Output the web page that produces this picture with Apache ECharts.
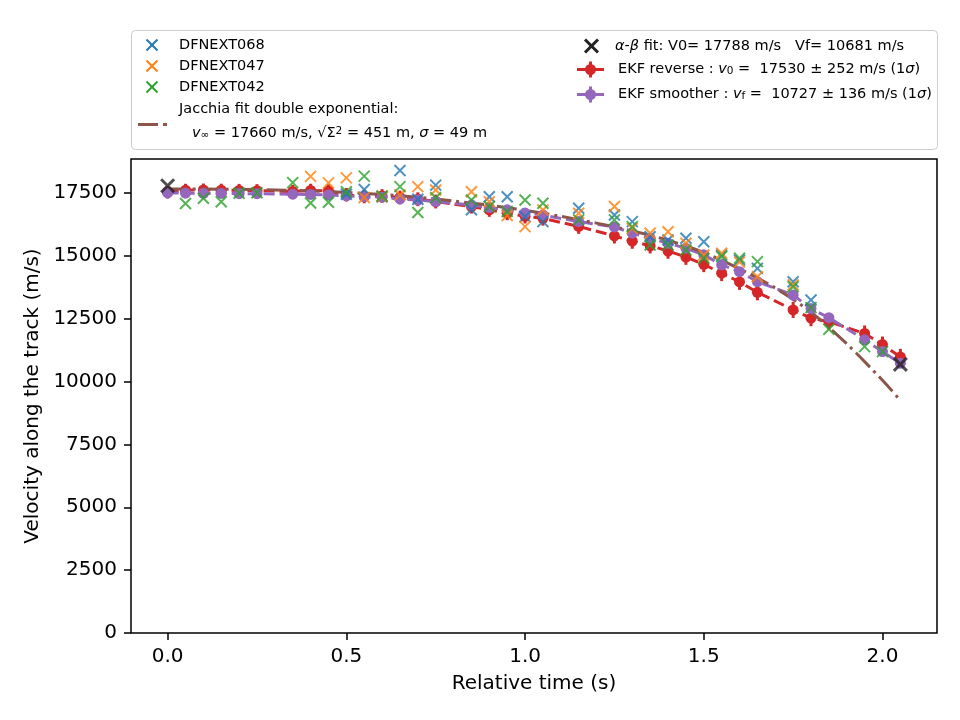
<!DOCTYPE html>
<html>
<head>
<meta charset="utf-8">
<script src="https://cdn.jsdelivr.net/npm/echarts@6/dist/echarts.min.js"></script>
<style>html,body{margin:0;background:#fff}#chart{width:960px;height:720px}</style>
</head>
<body>
<div id="chart"></div>
<script>
// camera observations (s, m/s)
const t068 = [0.5,0.55,0.6,0.65,0.7,0.75,0.85,0.9,0.95,1.0,1.05,1.15,1.25,1.3,1.35,1.4,1.45,1.5,1.55,1.6,1.65,1.75,1.8]
const v068 = [17450,17640,17350,18390,17250,17810,16830,17350,17350,16560,16360,16890,16620,16360,15760,15630,15700,15560,15030,14830,14500,13970,13240]
const t047 = [0.4,0.45,0.5,0.55,0.6,0.65,0.7,0.75,0.85,0.9,0.95,1.0,1.05,1.15,1.25,1.3,1.35,1.4,1.45,1.5,1.55,1.6,1.65,1.75]
const v047 = [18160,17900,18100,17320,17350,17420,17750,17620,17550,17150,16600,16160,16820,16690,16960,16090,15900,15960,15500,15030,15100,14750,14170,13840]
const t042 = [0.05,0.1,0.15,0.2,0.25,0.35,0.4,0.45,0.5,0.55,0.6,0.65,0.7,0.75,0.85,0.9,0.95,1.0,1.05,1.15,1.25,1.3,1.35,1.4,1.45,1.5,1.55,1.6,1.65,1.75,1.8,1.85,1.95,2.0]
const v042 = [17080,17290,17150,17490,17510,17910,17100,17130,17550,18170,17380,17750,16720,17310,17220,16960,16760,17220,17090,16430,16430,16160,15430,15430,15230,14900,14970,14900,14770,13770,12940,12080,11390,11190]

// alpha-beta fit end points
const abT = [0, 2.05]
const abV = [17788, 10681]

// EKF results
const ekfT = [0,0.05,0.1,0.15,0.2,0.25,0.35,0.4,0.45,0.5,0.55,0.6,0.65,0.7,0.75,0.85,0.9,0.95,1.0,1.05,1.15,1.25,1.3,1.35,1.4,1.45,1.5,1.55,1.6,1.65,1.75,1.8,1.85,1.95,2.0,2.05]
const ekfRev = [17530,17610,17620,17610,17600,17590,17560,17600,17580,17430,17360,17380,17320,17250,17160,16960,16830,16700,16570,16490,16170,15790,15580,15400,15190,14950,14660,14310,13960,13550,12850,12520,12380,11910,11470,10980]
const ekfRevErr = [252,255,255,258,260,260,262,265,265,268,270,270,272,275,275,280,280,285,285,290,295,300,300,305,305,310,310,315,315,320,320,320,320,320,320,320]
const ekfSmo = [17500,17490,17480,17480,17470,17470,17450,17440,17420,17380,17350,17330,17260,17220,17160,17020,16920,16830,16700,16620,16360,16150,15900,15700,15500,15300,15040,14640,14370,13970,13440,12900,12540,11660,11190,10727]

// Jacchia double exponential fit
const jacT = [0,0.1,0.2,0.3,0.4,0.5,0.6,0.7,0.8,0.9,1.0,1.1,1.2,1.3,1.4,1.5,1.6,1.7,1.8,1.9,2.0,2.05]
const jacV = [17660,17655,17645,17620,17580,17520,17440,17330,17180,17010,16810,16570,16300,15990,15620,15130,14480,13720,12760,11500,10050,9250]

const xTicks = [0, 0.5, 1.0, 1.5, 2.0]
const yTicks = [0, 2500, 5000, 7500, 10000, 12500, 15000, 17500]

const pairs = (ts, vs) => ts.map((t, i) => [t, vs[i]])
const FONT = 'DejaVu Sans'
const xMark = 'path://M0,0L10,10M10,0L0,10'

function camSeries (name, ts, vs, color) {
  return {
    name, type: 'scatter', data: pairs(ts, vs),
    symbol: xMark, symbolSize: 11,
    itemStyle: { color: 'rgba(0,0,0,0)', borderColor: color, borderWidth: 2 },
    z: 4
  }
}

// legend drawn by hand (matplotlib style box)
function xGlyph (cx, cy, s, color, lw) {
  return [
    { type: 'line', shape: { x1: cx - s, y1: cy - s, x2: cx + s, y2: cy + s }, style: { stroke: color, lineWidth: lw } },
    { type: 'line', shape: { x1: cx - s, y1: cy + s, x2: cx + s, y2: cy - s }, style: { stroke: color, lineWidth: lw } }
  ]
}
function lineDot (y, color) {
  return [
    { type: 'line', shape: { x1: 577, y1: y, x2: 604, y2: y }, style: { stroke: color, lineWidth: 3 } },
    { type: 'line', shape: { x1: 590.5, y1: y - 8, x2: 590.5, y2: y + 8 }, style: { stroke: color, lineWidth: 3 } },
    { type: 'circle', shape: { cx: 590.5, cy: y, r: 5.5 }, style: { fill: color } }
  ]
}
const rich = {
  i: { fontFamily: FONT, fontSize: 14.5, fontStyle: 'italic', fill: '#000' },
  sub: { fontFamily: FONT, fontSize: 10.5, verticalAlign: 'bottom', fill: '#000' },
  sup: { fontFamily: FONT, fontSize: 10.5, verticalAlign: 'top', fill: '#000' }
}
function txt (x, y, text) {
  return { type: 'text', x, y, style: { text, fontFamily: FONT, fontSize: 14.5, fill: '#000', verticalAlign: 'middle', rich } }
}
const legendEls = [
  { type: 'rect', shape: { x: 131.5, y: 30.5, width: 806, height: 119, r: 4 }, style: { fill: '#fff', stroke: '#cccccc', lineWidth: 1 } },
  ...xGlyph(152, 45, 5.5, '#1f77b4', 2), txt(179, 45, 'DFNEXT068'),
  ...xGlyph(152, 66, 5.5, '#ff7f0e', 2), txt(179, 66, 'DFNEXT047'),
  ...xGlyph(152, 87, 5.5, '#2ca02c', 2), txt(179, 87, 'DFNEXT042'),
  { type: 'line', shape: { x1: 138, y1: 124.5, x2: 158, y2: 124.5 }, style: { stroke: '#8c564b', lineWidth: 3 } },
  { type: 'line', shape: { x1: 163, y1: 124.5, x2: 167, y2: 124.5 }, style: { stroke: '#8c564b', lineWidth: 3 } },
  txt(179, 109, 'Jacchia fit double exponential:'),
  txt(192, 133, '{i|v}{sub|∞} = 17660 m/s, √Σ{sup|2} = 451 m, {i|σ} = 49 m'),
  ...xGlyph(591.5, 46, 6.5, '#222', 3),
  txt(615, 46, '{i|α}-{i|β} fit: V0= 17788 m/s   Vf= 10681 m/s'),
  ...lineDot(69.5, '#d62728'),
  txt(618, 69.5, 'EKF reverse : {i|v}{sub|0} =  17530 ± 252 m/s (1{i|σ})'),
  ...lineDot(94.5, '#9467bd'),
  txt(618, 94.5, 'EKF smoother : {i|v}{sub|f} =  10727 ± 136 m/s (1{i|σ})')
]

const chart = echarts.init(document.getElementById('chart'))
chart.setOption({
  backgroundColor: '#fff',
  animation: false,
  textStyle: { fontFamily: FONT },
  grid: { left: 131, top: 159, right: 23, bottom: 87, show: true, borderColor: '#000', borderWidth: 1.5, backgroundColor: '#fff' },
  xAxis: {
    type: 'value', min: -0.1025, max: 2.1525,
    name: 'Relative time (s)', nameLocation: 'middle', nameGap: 41,
    nameTextStyle: { fontSize: 20, color: '#000', fontFamily: FONT },
    axisLine: { show: false, onZero: false },
    axisTick: { show: true, length: 7, customValues: xTicks, lineStyle: { color: '#000', width: 1.5 } },
    axisLabel: { customValues: xTicks, margin: 14, fontSize: 20, color: '#000', fontFamily: FONT, formatter: v => v.toFixed(1) },
    splitLine: { show: false }
  },
  yAxis: {
    type: 'value', min: 0, max: 18850,
    name: 'Velocity along the track (m/s)', nameLocation: 'middle', nameGap: 82,
    nameTextStyle: { fontSize: 20, color: '#000', fontFamily: FONT },
    axisLine: { show: false, onZero: false },
    axisTick: { show: true, length: 7, customValues: yTicks, lineStyle: { color: '#000', width: 1.5 } },
    axisLabel: { customValues: yTicks, margin: 14, fontSize: 20, color: '#000', fontFamily: FONT, formatter: v => String(v) },
    splitLine: { show: false }
  },
  graphic: { elements: legendEls },
  series: [
    {
      name: 'EKF reverse error', type: 'custom', z: 2,
      data: ekfT.map((t, i) => [t, ekfRev[i] - ekfRevErr[i], ekfRev[i] + ekfRevErr[i]]),
      encode: { x: 0, y: [1, 2] },
      renderItem: (params, api) => {
        const a = api.coord([api.value(0), api.value(1)])
        const b = api.coord([api.value(0), api.value(2)])
        return { type: 'line', shape: { x1: a[0], y1: a[1], x2: b[0], y2: b[1] }, style: { stroke: '#d62728', lineWidth: 3 } }
      }
    },
    {
      name: 'EKF reverse', type: 'line', data: pairs(ekfT, ekfRev), z: 2,
      symbol: 'circle', symbolSize: 11, showSymbol: true,
      itemStyle: { color: '#d62728' },
      lineStyle: { color: '#d62728', width: 3, type: [11, 5] }
    },
    {
      name: 'EKF smoother', type: 'line', data: pairs(ekfT, ekfSmo), z: 3,
      symbol: 'circle', symbolSize: 11, showSymbol: true,
      itemStyle: { color: '#9467bd' },
      lineStyle: { color: '#9467bd', width: 3, type: [11, 5] }
    },
    {
      name: 'Jacchia fit', type: 'line', data: pairs(jacT, jacV), z: 3,
      symbol: 'none', smooth: 0.3,
      lineStyle: { color: '#8c564b', width: 3, type: [20, 5, 3, 5] }
    },
    camSeries('DFNEXT068', t068, v068, '#1f77b4'),
    camSeries('DFNEXT047', t047, v047, '#ff7f0e'),
    camSeries('DFNEXT042', t042, v042, '#2ca02c'),
    {
      name: 'α-β fit', type: 'scatter', data: pairs(abT, abV), z: 5,
      symbol: xMark, symbolSize: 13,
      itemStyle: { color: 'rgba(0,0,0,0)', borderColor: '#222', borderWidth: 3 }
    }
  ]
})
</script>
</body>
</html>
